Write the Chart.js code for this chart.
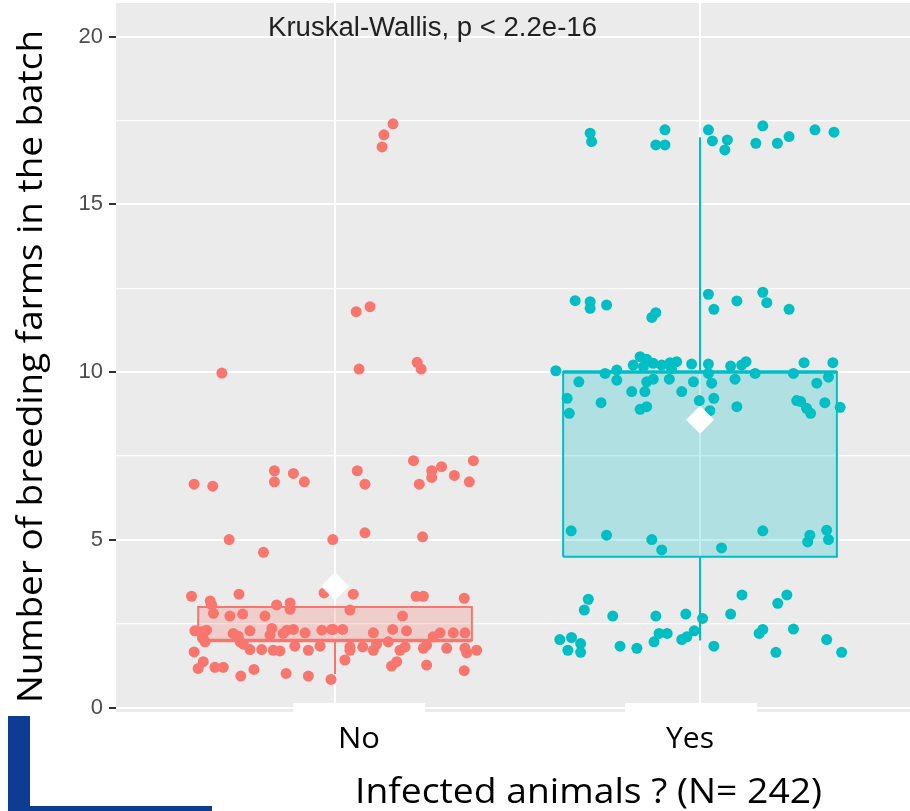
<!DOCTYPE html>
<html>
<head>
<meta charset="utf-8">
<script src="https://cdn.jsdelivr.net/npm/chart.js@4.4.1/dist/chart.umd.min.js"></script>
<style>
  html, body { margin: 0; padding: 0; background: #fff; }
  #wrap { width: 910px; height: 811px; }
</style>
</head>
<body>
<div id="wrap"><canvas id="boxplot" width="910" height="811"></canvas></div>
<script>
// categories and summary stats
var categories = ['No', 'Yes'];
var q1 = [2, 4.5];
var median = [2, 10];
var q3 = [3, 10];
var whiskerLow = [1, 2];
var whiskerHigh = [3, 17];
var means = [3.62, 8.58];
var yTickLabels = [0, 5, 10, 15, 20];

// jittered points for "No" (offset from category, value)
var noJitter = [-0.31, 0.159, 0.134, 0.129, 0.058, 0.096, 0.066, 0.225, 0.236, -0.386,
  -0.335, -0.166, -0.166, -0.114, -0.084, 0.061, 0.082, 0.215, 0.265, 0.265,
  0.292, 0.231, 0.327, 0.368, 0.379, -0.29, -0.196, -0.006, 0.082, 0.24,
  -0.393, -0.342, -0.338, -0.263, -0.16, -0.123, -0.123, -0.333, -0.288, -0.253,
  -0.192, -0.384, -0.365, -0.352, -0.361, -0.356, -0.279, -0.265, -0.26, -0.251,
  -0.233, -0.233, -0.201, -0.173, -0.178, -0.169, -0.151, -0.142, -0.132, -0.114,
  -0.11, -0.082, -0.073, -0.041, -0.036, -0.009, -0.386, -0.361, -0.375, -0.329,
  -0.306, -0.258, -0.222, -0.134, -0.073, -0.011, -0.03, 0.05, 0.222, 0.242,
  0.354, 0.041, 0.185, -0.005, 0.021, 0.105, 0.158, 0.196, 0.288, 0.324,
  0.356, 0.269, 0.041, 0.041, 0.076, 0.105, 0.114, 0.146, 0.178, 0.192,
  0.251, 0.242, 0.306, 0.356, 0.361, 0.388, 0.027, 0.169, 0.155, 0.251, 0.354];
var noValues = [9.97, 17.4, 17.07, 16.71, 11.8, 11.95, 10.09, 10.29, 10.09, 6.66,
  6.6, 7.06, 6.73, 6.98, 6.73, 7.06, 6.66, 7.36, 7.06, 6.86,
  7.18, 6.66, 6.92, 6.73, 7.36, 5.01, 4.63, 5.01, 5.21, 5.09,
  3.32, 3.18, 3.06, 3.38, 3.06, 3.12, 2.93, 2.81, 2.73, 2.79,
  2.73, 2.29, 2.26, 2.31, 2.06, 1.96, 2.21, 2.13, 1.96, 1.89,
  2.29, 1.73, 1.73, 2.36, 2.16, 1.71, 1.69, 2.21, 2.31, 2.33,
  1.83, 2.23, 1.71, 1.83, 2.31, 2.33, 1.66, 1.37, 1.17, 1.2,
  1.2, 0.94, 1.14, 1.02, 0.94, 0.84, 3.42, 3.38, 3.32, 3.32,
  3.26, 2.91, 2.73, 2.33, 2.33, 2.23, 2.33, 2.29, 2.23, 2.23,
  2.23, 2.11, 1.81, 1.71, 1.81, 1.71, 1.89, 1.96, 1.71, 1.81,
  1.86, 1.77, 1.77, 1.77, 1.63, 1.71, 1.42, 1.37, 1.24, 1.27, 1.1];

// jittered points for "Yes"
var yesJitter = [-0.301, -0.297, -0.096, -0.121, -0.096, 0.023, 0.034, 0.075, 0.068, 0.172,
  0.153, 0.212, 0.244, 0.315, 0.367, -0.342, -0.301, -0.301, -0.256, -0.132,
  -0.121, 0.023, 0.038, 0.101, 0.172, 0.183, 0.244, -0.395, -0.332, -0.26,
  -0.228, -0.228, -0.183, -0.164, -0.146, -0.155, -0.128, -0.105, -0.082, -0.064,
  -0.078, -0.023, 0.023, 0.023, 0.084, 0.114, 0.126, 0.151, 0.256, 0.285,
  0.364, 0.352, -0.187, -0.146, -0.128, -0.151, -0.084, -0.018, -0.05, 0.032,
  0.096, 0.32, -0.364, -0.358, -0.271, -0.164, -0.146, -0.002, 0.038, 0.027,
  0.101, 0.265, 0.276, 0.292, 0.303, 0.342, 0.384, -0.353, -0.256, -0.132,
  -0.105, 0.059, 0.172, 0.301, 0.295, 0.347, 0.352, -0.306, -0.317, -0.239,
  -0.121, -0.039, 0.007, 0.084, 0.115, 0.213, 0.238, -0.384, -0.352, -0.327,
  -0.362, -0.327, -0.219, -0.173, -0.126, -0.112, -0.09, -0.05, -0.036, -0.016,
  0.038, 0.162, 0.172, 0.208, 0.256, 0.347, 0.388];
var yesValues = [17.12, 16.87, 17.22, 16.77, 16.77, 17.22, 16.89, 16.92, 16.62, 17.34,
  16.82, 16.82, 17.02, 17.22, 17.15, 12.13, 12.1, 11.9, 12.0, 11.63,
  11.77, 12.32, 11.87, 12.12, 12.38, 12.07, 11.87, 10.04, 9.71, 9.96,
  10.06, 9.76, 10.21, 10.46, 10.38, 10.16, 10.26, 10.21, 10.28, 10.31,
  10.11, 10.24, 10.24, 9.96, 10.18, 10.21, 10.31, 9.96, 9.96, 10.28,
  10.28, 9.85, 9.42, 9.71, 9.79, 9.42, 9.79, 9.71, 9.42, 9.67,
  9.79, 9.67, 9.22, 8.77, 9.09, 8.89, 8.97, 9.15, 9.22, 8.85,
  8.97, 9.15, 9.12, 8.92, 8.77, 9.09, 8.95, 5.27, 5.14, 5.01,
  4.7, 4.76, 5.27, 5.14, 4.94, 5.29, 5.01, 3.23, 2.91, 2.73,
  2.73, 2.79, 2.66, 2.79, 3.36, 3.11, 3.36, 2.03, 2.09, 1.91,
  1.71, 1.65, 1.83, 1.77, 1.96, 2.21, 2.21, 2.03, 2.11, 2.29,
  1.83, 2.21, 2.33, 1.65, 2.34, 2.03, 1.65];

var groupColors = ['rgb(248,118,109)', 'rgb(0,191,196)'];
var groupFills = ['rgba(248,118,109,0.25)', 'rgba(0,191,196,0.25)'];
var halfBox = 0.375;

function pointsFor(jitter, values, pos) {
  return values.map(function(v, i) { return { x: pos + jitter[i], y: v }; });
}

var datasets = [];

// mean diamonds
datasets.push({
  data: means.map(function(m, i) { return { x: i + 1, y: m }; }),
  pointStyle: 'rectRot', pointRadius: 14, backgroundColor: '#ffffff',
  borderWidth: 0, showLine: false, order: 0
});

// jitter points
datasets.push({
  data: pointsFor(noJitter, noValues, 1),
  pointRadius: 5.5, backgroundColor: groupColors[0], borderWidth: 0, showLine: false, order: 1
});
datasets.push({
  data: pointsFor(yesJitter, yesValues, 2),
  pointRadius: 5.5, backgroundColor: groupColors[1], borderWidth: 0, showLine: false, order: 1
});

categories.forEach(function(c, i) {
  var pos = i + 1;
  // box
  datasets.push({
    type: 'line',
    data: [
      { x: pos - halfBox, y: q1[i] }, { x: pos - halfBox, y: q3[i] },
      { x: pos + halfBox, y: q3[i] }, { x: pos + halfBox, y: q1[i] },
      { x: pos - halfBox, y: q1[i] }
    ],
    borderColor: groupColors[i], backgroundColor: groupFills[i],
    borderWidth: 2, pointRadius: 0, fill: 'shape', tension: 0, order: 3
  });
  // median
  datasets.push({
    type: 'line',
    data: [{ x: pos - halfBox, y: median[i] }, { x: pos + halfBox, y: median[i] }],
    borderColor: groupColors[i], borderWidth: 3.5, pointRadius: 0, fill: false, order: 2
  });
  // whiskers
  datasets.push({
    type: 'line',
    data: [{ x: pos, y: whiskerLow[i] }, { x: pos, y: q1[i] }, { x: pos, y: null },
           { x: pos, y: q3[i] }, { x: pos, y: whiskerHigh[i] }],
    borderColor: groupColors[i], borderWidth: 2, pointRadius: 0, fill: false,
    spanGaps: false, order: 4
  });
});

// helper to draw text squeezed into a given width
function fitText(ctx, text, x, y, w, size, family, color, rot) {
  ctx.save();
  ctx.font = size + 'px ' + family;
  ctx.fillStyle = color;
  ctx.textAlign = 'left';
  ctx.textBaseline = 'alphabetic';
  var m = ctx.measureText(text).width;
  ctx.translate(x, y);
  if (rot) ctx.rotate(rot);
  ctx.scale(w / m, 1);
  ctx.fillText(text, 0, 0);
  ctx.restore();
}

var panelPlugin = {
  id: 'panel',
  beforeDraw: function(chart) {
    var ctx = chart.ctx, a = chart.chartArea;
    ctx.save();
    ctx.fillStyle = '#ffffff';
    ctx.fillRect(0, 0, chart.width, chart.height);
    ctx.fillStyle = '#EBEBEB';
    ctx.fillRect(a.left, a.top, a.right - a.left, a.bottom - a.top);
    ctx.restore();
  },
  afterDraw: function(chart) {
    var ctx = chart.ctx;
    ctx.save();
    // white patches covering the old axis labels
    ctx.fillStyle = '#ffffff';
    ctx.fillRect(293, 703, 132, 10);
    ctx.fillRect(625, 703, 132, 10);
    // blue corner
    ctx.fillStyle = '#0F3C93';
    ctx.fillRect(8, 716, 22, 95);
    ctx.fillRect(8, 806, 204, 5);
    ctx.restore();

    fitText(ctx, 'Kruskal-Wallis, p < 2.2e-16', 268, 36, 329, 27, '"Liberation Sans", Arial, sans-serif', '#1f1f1f');
    fitText(ctx, 'Number of breeding farms in the batch', 42, 703, 673, 35, '"Open Sans", sans-serif', '#000', -Math.PI / 2);
    fitText(ctx, categories[0], 338, 748, 42, 30, '"Open Sans", sans-serif', '#000');
    fitText(ctx, categories[1], 666, 748, 48, 30, '"Open Sans", sans-serif', '#000');
    fitText(ctx, 'Infected animals ? (N= 242)', 355, 803, 467, 35, '"Open Sans", sans-serif', '#000');
  }
};

var ctx = document.getElementById('boxplot');
var chart = new Chart(ctx, {
  type: 'scatter',
  data: { datasets: datasets },
  options: {
    responsive: false,
    animation: false,
    layout: { autoPadding: false, padding: { top: 3, left: 0, right: 0, bottom: 0 } },
    plugins: { legend: { display: false }, tooltip: { enabled: false } },
    scales: {
      x: {
        type: 'linear',
        min: 0.4,
        max: 0.4 + 794 / 365,
        afterBuildTicks: function(scale) {
          scale.ticks = categories.map(function(c, i) { return { value: i + 1 }; });
        },
        afterFit: function(scale) {
          scale.height = 99;
          scale.paddingLeft = 0; scale.paddingRight = 0;
        },
        ticks: { display: false },
        grid: { color: '#ffffff', lineWidth: 2, drawTicks: false },
        border: { display: false }
      },
      y: {
        min: -0.13,
        max: 21.0,
        afterBuildTicks: function(scale) {
          var t = [];
          for (var v = 0; v <= 20; v += 2.5) t.push({ value: v });
          scale.ticks = t;
        },
        afterFit: function(scale) {
          scale.width = 116;
          scale.paddingTop = 0; scale.paddingBottom = 0;
        },
        ticks: {
          padding: 6,
          color: '#4D4D4D',
          font: { family: '"Liberation Sans", Arial, sans-serif', size: 22 },
          callback: function(v) { return yTickLabels.indexOf(v) >= 0 ? String(v) : ''; }
        },
        grid: {
          color: '#ffffff',
          lineWidth: function(c) { return c.tick && yTickLabels.indexOf(c.tick.value) >= 0 ? 2 : 1.2; },
          tickColor: function(c) { return c.tick && yTickLabels.indexOf(c.tick.value) >= 0 ? '#333333' : 'rgba(0,0,0,0)'; },
          tickLength: 7
        },
        border: { display: false }
      }
    }
  },
  plugins: [panelPlugin]
});
</script>
</body>
</html>
